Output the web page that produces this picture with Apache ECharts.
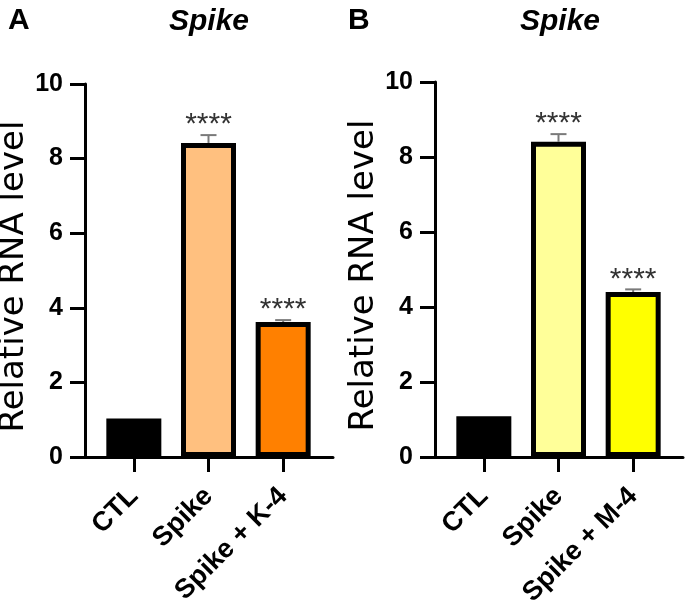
<!DOCTYPE html>
<html>
<head>
<meta charset="utf-8">
<script src="https://cdn.jsdelivr.net/npm/echarts@6/dist/echarts.min.js"></script>
<style>html,body{margin:0;padding:0;background:#fff}#c{width:685px;height:604px}</style>
</head>
<body>
<div id="c"></div>
<script>
// ---- data ----
const categoriesA = ['CTL', 'Spike', 'Spike + K-4'];
const valuesA = [1.03, 8.42, 3.62];
const errorsA = [0, 0.21, 0.05];
const starsA = ['', '****', '****'];
const colorsA = ['#000000', '#FFC07F', '#FF8000'];

const categoriesB = ['CTL', 'Spike', 'Spike + M-4'];
const valuesB = [1.09, 8.41, 4.40];
const errorsB = [0, 0.2, 0.07];
const starsB = ['', '****', '****'];
const colorsB = ['#000000', '#FFFF99', '#FFFF00'];

const yMin = 0, yMax = 10, yInterval = 2;
const panelTitles = ['A', 'B'];
const chartTitle = 'Spike';
const yAxisName = 'Relative RNA level';

// ---- chart ----
const chart = echarts.init(document.getElementById('c'));
const FONT = 'Liberation Sans, Arial, sans-serif';

function axesX(gi) {
  return { gridIndex: gi, type: 'value', min: 0, max: 1,
    axisLine: { show: true, onZero: false, lineStyle: { color: '#000', width: 3 } },
    axisTick: { show: false }, axisLabel: { show: false }, splitLine: { show: false } };
}
function axesY(gi) {
  return { gridIndex: gi, type: 'value', min: yMin, max: yMax, interval: yInterval,
    name: yAxisName, nameLocation: 'middle', nameGap: 53,
    nameTextStyle: { fontFamily: 'DejaVu Sans', fontSize: 34, color: '#000', padding: [0, 12, 0, 0] },
    axisLine: { show: true, lineStyle: { color: '#000', width: 3 } },
    axisTick: { show: true, length: 15, lineStyle: { color: '#000', width: 3 } },
    axisLabel: { margin: 22, fontFamily: FONT, fontWeight: 'bold', fontSize: 25, color: '#000' },
    splitLine: { show: false } };
}
function catX(gi, cats) {
  return { gridIndex: gi, type: 'category', data: cats,
    axisLine: { show: false },
    axisTick: { show: true, alignWithLabel: true, length: 15, lineStyle: { color: '#000', width: 3 } },
    axisLabel: { interval: 0, rotate: 45, margin: 35, fontFamily: FONT, fontWeight: 'bold', fontSize: 27, color: '#000' },
    splitLine: { show: false } };
}
function hidY(gi) {
  return { gridIndex: gi, type: 'value', min: yMin, max: yMax, interval: yInterval, show: false };
}
function barSeries(ai, vals, cols) {
  return { type: 'bar', xAxisIndex: ai, yAxisIndex: ai, barWidth: 55, z: 5,
    data: vals.map((v, i) => ({ value: v, itemStyle: { color: cols[i], borderColor: '#000', borderWidth: 5 } })),
    animation: false };
}
function errSeries(ai, vals, errs, stars) {
  return { type: 'custom', xAxisIndex: ai, yAxisIndex: ai, z: 1, animation: false,
    data: vals.map((v, i) => [i, v, errs[i]]),
    renderItem: function (params, api) {
      const i = api.value(0), v = api.value(1), e = api.value(2);
      const base = api.coord([i, v]);
      const top = api.coord([i, v + e]);
      const children = [];
      if (e > 0) {
        children.push(
          { type: 'line', shape: { x1: base[0], y1: base[1], x2: top[0], y2: top[1] }, style: { stroke: '#7a7a7a', lineWidth: 2 } },
          { type: 'line', shape: { x1: top[0] - 8, y1: top[1], x2: top[0] + 8, y2: top[1] }, style: { stroke: '#7a7a7a', lineWidth: 2 } }
        );
      }
      const s = stars[params.dataIndex];
      if (s) {
        children.push({ type: 'text', style: { x: top[0], y: top[1] - 10, text: s, fill: '#333',
          font: '30px ' + FONT, textAlign: 'center', textVerticalAlign: 'middle', align: 'center', verticalAlign: 'middle' } });
      }
      return { type: 'group', children: children };
    } };
}

const gridBase = { outerBoundsMode: 'none', containLabel: false };
const option = {
  backgroundColor: '#fff',
  animation: false,
  title: [
    { text: panelTitles[0], left: 3, top: 1, textStyle: { fontFamily: FONT, fontSize: 30, fontWeight: 'bold', color: '#000' } },
    { text: panelTitles[1], left: 343, top: 1, textStyle: { fontFamily: FONT, fontSize: 30, fontWeight: 'bold', color: '#000' } },
    { text: chartTitle, left: 204, top: 2, textAlign: 'center', textStyle: { fontFamily: FONT, fontSize: 30, fontWeight: 'bold', fontStyle: 'italic', color: '#000' } },
    { text: chartTitle, left: 555, top: 2, textAlign: 'center', textStyle: { fontFamily: FONT, fontSize: 30, fontWeight: 'bold', fontStyle: 'italic', color: '#000' } }
  ],
  grid: [
    Object.assign({ left: 85, top: 84, width: 248, height: 373 }, gridBase),
    Object.assign({ left: 96.5, top: 84, width: 224, height: 373 }, gridBase),
    Object.assign({ left: 435, top: 82, width: 248, height: 375 }, gridBase),
    Object.assign({ left: 446.5, top: 82, width: 224, height: 375 }, gridBase)
  ],
  xAxis: [axesX(0), catX(1, categoriesA), axesX(2), catX(3, categoriesB)],
  yAxis: [axesY(0), hidY(1), axesY(2), hidY(3)],
  series: [
    barSeries(1, valuesA, colorsA), errSeries(1, valuesA, errorsA, starsA),
    barSeries(3, valuesB, colorsB), errSeries(3, valuesB, errorsB, starsB)
  ]
};
chart.setOption(option);
</script>
</body>
</html>
